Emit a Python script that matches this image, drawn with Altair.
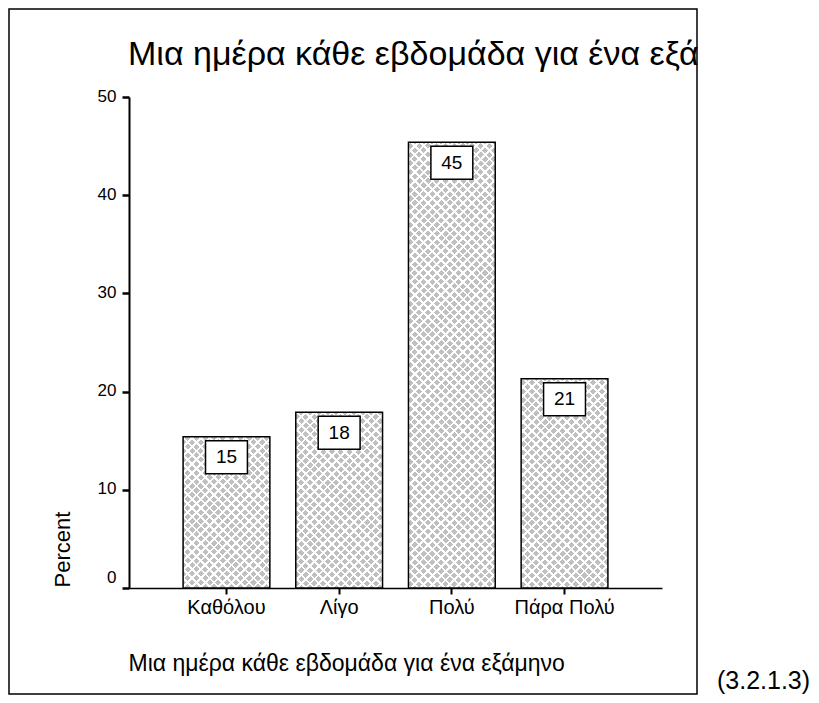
import math
import altair as alt
import pandas as pd

# ---- data ----
categories = ["Καθόλου", "Λίγο", "Πολύ", "Πάρα Πολύ"]
percents = [15.4, 17.9, 45.4, 21.3]
y_ticks = [0, 10, 20, 30, 40, 50]

chart_title = "Μια ημέρα κάθε εβδομάδα για ένα εξά"
x_title = "Μια ημέρα κάθε εβδομάδα για ένα εξάμηνο"
y_title = "Percent"
side_note = "(3.2.1.3)"

df = pd.DataFrame({"category": categories, "percent": percents})

FONT = "Liberation Sans"
W, H = 533, 491
Y_MAX = 50
PAD_INNER, PAD_OUTER = 0.23, 0.48
BAR_GRAY = "#c0c0c0"

# band width of the x scale (used only to shape the hatch gradients)
step = W / (len(categories) - PAD_INNER + 2 * PAD_OUTER)
band_w = step * (1 - PAD_INNER)


def hatch(h, w, direction, base, line, period=6.2, line_w=1.9):
    """Linear gradient giving 45 degree stripes on a w x h box."""
    r = h / w
    c = (1 + r) / (1 + r * r)
    if direction == "a":
        x1, y1, x2, y2 = 0, 0, c, c * r
    else:
        x1, y1, x2, y2 = 0, 1, c, 1 - c * r
    tper = period * math.sqrt(2) / (w + h)
    tline = line_w * math.sqrt(2) / (w + h)
    stops = []
    k = 0
    while k * tper < 1:
        s = k * tper
        e1 = min(s + tline, 1)
        e2 = min(s + tper, 1)
        stops += [
            {"offset": round(s, 5), "color": line},
            {"offset": round(e1, 5), "color": line},
            {"offset": round(e1, 5), "color": base},
            {"offset": round(e2, 5), "color": base},
        ]
        k += 1
    return {"gradient": "linear", "x1": x1, "y1": y1, "x2": x2, "y2": y2,
            "stops": stops}


x_enc = alt.X(
    "category:N",
    sort=categories,
    scale=alt.Scale(paddingInner=PAD_INNER, paddingOuter=PAD_OUTER),
    axis=alt.Axis(
        title=x_title,
        titleFont=FONT,
        titleFontSize=23,
        titleFontWeight="normal",
        titleColor="black",
        titleAnchor="start",
        titleAlign="left",
        titleBaseline="alphabetic",
        titleX=-1,
        titleY=82,
        labelAngle=0,
        labelAlign="center",
        labelBaseline="top",
        labelFont=FONT,
        labelFontSize=20,
        labelColor="black",
        labelPadding=3,
        tickSize=6,
        tickWidth=2,
        tickColor="black",
        domainColor="black",
        domainWidth=1.5,
    ),
)

y_enc = alt.Y(
    "percent:Q",
    scale=alt.Scale(domain=[0, Y_MAX], nice=False),
    axis=alt.Axis(
        values=y_ticks,
        grid=False,
        title=y_title,
        titleFont=FONT,
        titleFontSize=22,
        titleFontWeight="normal",
        titleColor="black",
        titleAngle=270,
        titleAlign="left",
        titleBaseline="alphabetic",
        titleX=-60,
        titleY=490,
        labelFont=FONT,
        labelFontSize=17,
        labelColor="black",
        labelPadding=6,
        labelOffset={"expr": "datum.value == 0 ? -11 : -1"},
        tickSize=7,
        tickWidth=2.5,
        tickColor="black",
        domainColor="black",
        domainWidth=2,
    ),
)

base = alt.Chart(df)

hatch_layers = []
for cat, val in zip(categories, percents):
    h = val / Y_MAX * H
    for d, b, ln in (("a", BAR_GRAY, "#ffffff"), ("b", "rgba(255,255,255,0)", "#ffffff")):
        hatch_layers.append(
            base.transform_filter(alt.datum.category == cat)
            .mark_bar(fill=hatch(h, band_w, d, b, ln), strokeWidth=0)
            .encode(x=x_enc, y=y_enc)
        )

outline = base.mark_bar(
    fillOpacity=0, stroke="black", strokeWidth=1.5
).encode(x=x_enc, y=y_enc)

box_path = "M -1.27 -1 L 1.27 -1 L 1.27 1 L -1.27 1 Z"
boxes = base.mark_point(
    shape=box_path,
    size=33 * 33,
    filled=True,
    fill="white",
    stroke="black",
    strokeWidth=1.5,
    opacity=1,
    yOffset=20.5,
).encode(x=x_enc, y=y_enc)

labels = base.mark_text(
    font=FONT, fontSize=19, color="black", dy=20.5, baseline="middle"
).encode(
    x=x_enc,
    y=y_enc,
    text=alt.Text("percent:Q", format=".0f"),
)

one = alt.Data(values=[{"k": 1}])

frame = alt.Chart(one).mark_rect(
    filled=False, stroke="black", strokeWidth=1.5
).encode(
    x=alt.value(-120), x2=alt.value(568), y=alt.value(-88), y2=alt.value(597)
)

title_text = alt.Chart(one).mark_text(
    font=FONT, fontSize=34, color="black", align="left", baseline="alphabetic",
    limit=578, ellipsis=""
).encode(x=alt.value(-1), y=alt.value(-32), text=alt.value(chart_title))

note_text = alt.Chart(one).mark_text(
    font=FONT, fontSize=25, color="black", align="left", baseline="alphabetic"
).encode(x=alt.value(588), y=alt.value(592), text=alt.value(side_note))

chart = alt.layer(
    frame, *hatch_layers, outline, boxes, labels, title_text, note_text
).properties(
    width=W,
    height=H,
    autosize=alt.AutoSizeParams(type="none"),
    padding={"left": 121, "top": 89, "right": 149, "bottom": 107},
).configure_view(stroke=None)

chart.save("out.html", embed_options={"renderer": "svg", "actions": False})
